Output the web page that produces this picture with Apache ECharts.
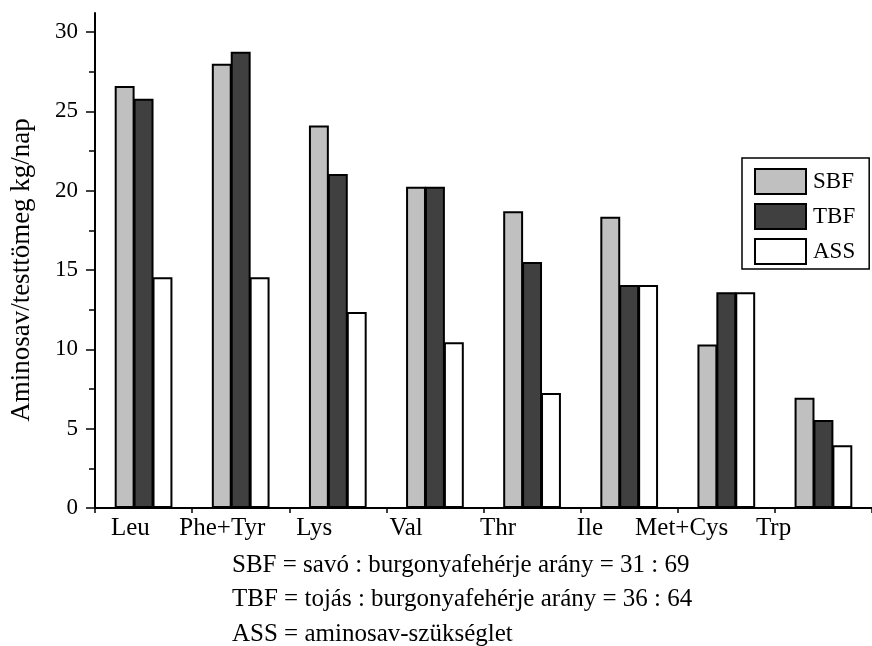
<!DOCTYPE html>
<html>
<head>
<meta charset="utf-8">
<script src="https://cdn.jsdelivr.net/npm/echarts@6/dist/echarts.min.js"></script>
<style>
html,body{margin:0;padding:0;background:#fff;}
#main{width:872px;height:646px;}
</style>
</head>
<body>
<div id="main"></div>
<script>
const categories = ['Leu', 'Phe+Tyr', 'Lys', 'Val', 'Thr', 'Ile', 'Met+Cys', 'Trp'];
const sbfValues = [26.6, 28.0, 24.1, 20.25, 18.7, 18.35, 10.3, 6.95];
const tbfValues = [25.8, 28.75, 21.05, 20.25, 15.5, 14.05, 13.6, 5.55];
const assValues = [14.55, 14.55, 12.35, 10.45, 7.25, 14.05, 13.6, 3.95];
const seriesNames = ['SBF', 'TBF', 'ASS'];
const yAxisName = 'Aminosav/testtömeg kg/nap';
const footnotes = [
  'SBF = savó : burgonyafehérje arány = 31 : 69',
  'TBF = tojás : burgonyafehérje arány = 36 : 64',
  'ASS = aminosav-szükséglet'
];

const FONT = 'Liberation Serif';
const colors = ['#c0c0c0', '#404040', '#ffffff'];
const values = [sbfValues, tbfValues, assValues];

const chart = echarts.init(document.getElementById('main'), null, {renderer: 'canvas'});
chart.setOption({
  animation: false,
  backgroundColor: '#fff',
  textStyle: {fontFamily: FONT, color: '#000'},
  title: {
    text: footnotes.join('\n'),
    left: 232,
    top: 548,
    padding: 0,
    textStyle: {fontFamily: FONT, fontSize: 25, fontWeight: 'normal', color: '#000', lineHeight: 34.5}
  },
  legend: {
    orient: 'vertical',
    left: 742,
    top: 158,
    padding: [10, 14, 4, 12],
    itemWidth: 51,
    itemHeight: 25,
    itemGap: 8,
    borderColor: '#000',
    borderWidth: 1.5,
    icon: 'rect',
    textStyle: {fontFamily: FONT, fontSize: 23, color: '#000', padding: [0, 0, 0, 2]},
    data: seriesNames
  },
  grid: [
    {left: 95, right: 0, top: 32, bottom: 138},
    {left: 95, width: 1, top: 13, bottom: 138},
    {left: 84.5, width: 735, top: 32, bottom: 138}
  ],
  xAxis: [
    {
      type: 'category', gridIndex: 0, data: categories, boundaryGap: true,
      axisLine: {lineStyle: {color: '#000', width: 2}},
      axisTick: {show: true, length: 5, lineStyle: {color: '#000', width: 1.5}},
      axisLabel: {show: false}
    },
    {type: 'category', gridIndex: 1, data: ['a'], show: false},
    {
      type: 'category', gridIndex: 2, data: categories, boundaryGap: true,
      axisLine: {show: false}, axisTick: {show: false},
      axisLabel: {show: true, fontFamily: FONT, fontSize: 25, color: '#000', margin: 8, interval: 0}
    }
  ],
  yAxis: [
    {
      type: 'value', gridIndex: 0, min: 0, max: 30, interval: 5,
      name: yAxisName, nameLocation: 'middle', nameRotate: 90, nameGap: 60,
      nameTextStyle: {fontFamily: FONT, fontSize: 27, color: '#000'},
      axisLine: {show: true, lineStyle: {color: '#000', width: 2}},
      axisTick: {show: true, length: 9, lineStyle: {color: '#000', width: 1.5}},
      minorTick: {show: true, splitNumber: 2, length: 6, lineStyle: {color: '#000', width: 1.5}},
      axisLabel: {fontFamily: FONT, fontSize: 23, color: '#000', margin: 17},
      splitLine: {show: false}
    },
    {
      type: 'value', gridIndex: 1, min: 0, max: 1,
      axisLine: {show: true, lineStyle: {color: '#000', width: 2}},
      axisTick: {show: false}, axisLabel: {show: false}, splitLine: {show: false}
    },
    {type: 'value', gridIndex: 2, show: false}
  ],
  series: seriesNames.map((name, i) => ({
    name: name,
    type: 'bar',
    xAxisIndex: 0,
    yAxisIndex: 0,
    data: values[i],
    barWidth: '20.5%',
    barGap: '-5%',
    itemStyle: {color: colors[i], borderColor: '#000', borderWidth: 2}
  }))
});
</script>
</body>
</html>
